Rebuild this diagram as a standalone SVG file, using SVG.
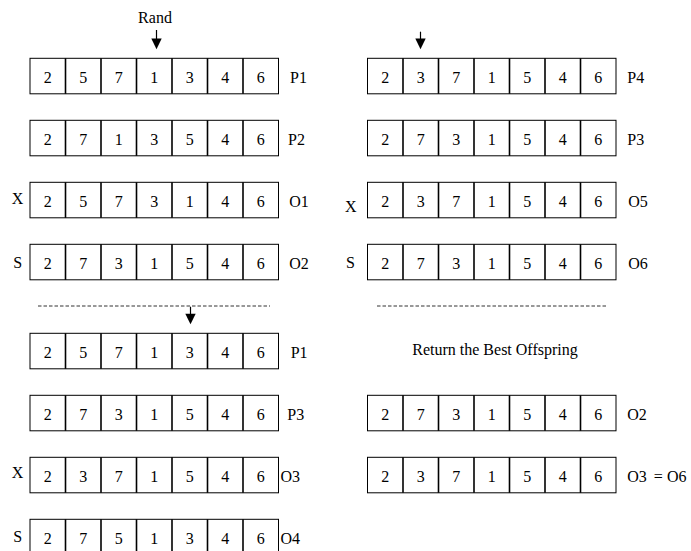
<svg xmlns="http://www.w3.org/2000/svg" xmlns:xlink="http://www.w3.org/1999/xlink" width="691" height="551" viewBox="0 0 691 551" font-family="'Liberation Serif', 'Times New Roman', serif">
<style>
text,tspan{font-family:"Liberation Serif","Times New Roman",serif;fill:#000}
.d{font-size:16px;text-anchor:middle}
.l{font-size:16px}
.fr{fill:#fff;stroke:#000;stroke-width:1}
.dv{stroke:#000;stroke-width:1.6}
.dash{stroke:#333;stroke-width:1;stroke-dasharray:3.5 2}
.ar{stroke:#000;stroke-width:1.2}
</style>
<defs>
<g id="frame">
<rect class="fr" x="0" y="0" width="248.5" height="35.5"/>
<line class="dv" x1="35.5" y1="0" x2="35.5" y2="35.5"/>
<line class="dv" x1="71" y1="0" x2="71" y2="35.5"/>
<line class="dv" x1="106.5" y1="0" x2="106.5" y2="35.5"/>
<line class="dv" x1="142" y1="0" x2="142" y2="35.5"/>
<line class="dv" x1="177.5" y1="0" x2="177.5" y2="35.5"/>
<line class="dv" x1="213" y1="0" x2="213" y2="35.5"/>
</g>
</defs>

<g id="L1">
<use xlink:href="#frame" x="30" y="58.3"/>
<text class="d" y="83.3"><tspan x="47.75">2</tspan><tspan x="83.25">5</tspan><tspan x="118.75">7</tspan><tspan x="154.25">1</tspan><tspan x="189.75">3</tspan><tspan x="225.25">4</tspan><tspan x="260.75">6</tspan></text>
<text class="l" x="290" y="83.3">P1</text>
</g>
<g id="L2">
<use xlink:href="#frame" x="30" y="120.3"/>
<text class="d" y="145.3"><tspan x="47.75">2</tspan><tspan x="83.25">7</tspan><tspan x="118.75">1</tspan><tspan x="154.25">3</tspan><tspan x="189.75">5</tspan><tspan x="225.25">4</tspan><tspan x="260.75">6</tspan></text>
<text class="l" x="288" y="145.3">P2</text>
</g>
<g id="L3">
<text class="l" x="11.7" y="204.3">X</text>
<use xlink:href="#frame" x="30" y="182.3"/>
<text class="d" y="207.3"><tspan x="47.75">2</tspan><tspan x="83.25">5</tspan><tspan x="118.75">7</tspan><tspan x="154.25">3</tspan><tspan x="189.75">1</tspan><tspan x="225.25">4</tspan><tspan x="260.75">6</tspan></text>
<text class="l" x="289.3" y="207.3">O1</text>
</g>
<g id="L4">
<text class="l" x="13.3" y="268.3">S</text>
<use xlink:href="#frame" x="30" y="244.3"/>
<text class="d" y="269.3"><tspan x="47.75">2</tspan><tspan x="83.25">7</tspan><tspan x="118.75">3</tspan><tspan x="154.25">1</tspan><tspan x="189.75">5</tspan><tspan x="225.25">4</tspan><tspan x="260.75">6</tspan></text>
<text class="l" x="289.3" y="269.3">O2</text>
</g>
<g id="L5">
<use xlink:href="#frame" x="30" y="333.3"/>
<text class="d" y="358.3"><tspan x="47.75">2</tspan><tspan x="83.25">5</tspan><tspan x="118.75">7</tspan><tspan x="154.25">1</tspan><tspan x="189.75">3</tspan><tspan x="225.25">4</tspan><tspan x="260.75">6</tspan></text>
<text class="l" x="290.7" y="358.3">P1</text>
</g>
<g id="L6">
<use xlink:href="#frame" x="30" y="395.3"/>
<text class="d" y="420.3"><tspan x="47.75">2</tspan><tspan x="83.25">7</tspan><tspan x="118.75">3</tspan><tspan x="154.25">1</tspan><tspan x="189.75">5</tspan><tspan x="225.25">4</tspan><tspan x="260.75">6</tspan></text>
<text class="l" x="287.3" y="420.3">P3</text>
</g>
<g id="L7">
<text class="l" x="11.7" y="478.3">X</text>
<use xlink:href="#frame" x="30" y="457.3"/>
<text class="d" y="482.3"><tspan x="47.75">2</tspan><tspan x="83.25">3</tspan><tspan x="118.75">7</tspan><tspan x="154.25">1</tspan><tspan x="189.75">5</tspan><tspan x="225.25">4</tspan><tspan x="260.75">6</tspan></text>
<text class="l" x="280.5" y="482.3">O3</text>
</g>
<g id="L8">
<text class="l" x="13.3" y="541.7">S</text>
<use xlink:href="#frame" x="30" y="519.3"/>
<text class="d" y="544.3"><tspan x="47.75">2</tspan><tspan x="83.25">7</tspan><tspan x="118.75">5</tspan><tspan x="154.25">1</tspan><tspan x="189.75">3</tspan><tspan x="225.25">4</tspan><tspan x="260.75">6</tspan></text>
<text class="l" x="280.5" y="544.3">O4</text>
</g>

<g id="R1">
<use xlink:href="#frame" x="367.5" y="58.3"/>
<text class="d" y="83.3"><tspan x="385.25">2</tspan><tspan x="420.75">3</tspan><tspan x="456.25">7</tspan><tspan x="491.75">1</tspan><tspan x="527.25">5</tspan><tspan x="562.75">4</tspan><tspan x="598.25">6</tspan></text>
<text class="l" x="627.3" y="83.3">P4</text>
</g>
<g id="R2">
<use xlink:href="#frame" x="367.5" y="120.3"/>
<text class="d" y="145.3"><tspan x="385.25">2</tspan><tspan x="420.75">7</tspan><tspan x="456.25">3</tspan><tspan x="491.75">1</tspan><tspan x="527.25">5</tspan><tspan x="562.75">4</tspan><tspan x="598.25">6</tspan></text>
<text class="l" x="627.3" y="145.3">P3</text>
</g>
<g id="R3">
<text class="l" x="345" y="211.7">X</text>
<use xlink:href="#frame" x="367.5" y="182.3"/>
<text class="d" y="207.3"><tspan x="385.25">2</tspan><tspan x="420.75">3</tspan><tspan x="456.25">7</tspan><tspan x="491.75">1</tspan><tspan x="527.25">5</tspan><tspan x="562.75">4</tspan><tspan x="598.25">6</tspan></text>
<text class="l" x="628.3" y="207.3">O5</text>
</g>
<g id="R4">
<text class="l" x="346" y="268.3">S</text>
<use xlink:href="#frame" x="367.5" y="244.3"/>
<text class="d" y="269.3"><tspan x="385.25">2</tspan><tspan x="420.75">7</tspan><tspan x="456.25">3</tspan><tspan x="491.75">1</tspan><tspan x="527.25">5</tspan><tspan x="562.75">4</tspan><tspan x="598.25">6</tspan></text>
<text class="l" x="628.3" y="269.3">O6</text>
</g>
<g id="R5">
<text class="l" x="495" y="355" text-anchor="middle">Return the Best Offspring</text>
</g>
<g id="R6">
<use xlink:href="#frame" x="367.5" y="395.3"/>
<text class="d" y="420.3"><tspan x="385.25">2</tspan><tspan x="420.75">7</tspan><tspan x="456.25">3</tspan><tspan x="491.75">1</tspan><tspan x="527.25">5</tspan><tspan x="562.75">4</tspan><tspan x="598.25">6</tspan></text>
<text class="l" x="627.3" y="420.3">O2</text>
</g>
<g id="R7">
<use xlink:href="#frame" x="367.5" y="457.3"/>
<text class="d" y="482.3"><tspan x="385.25">2</tspan><tspan x="420.75">3</tspan><tspan x="456.25">7</tspan><tspan x="491.75">1</tspan><tspan x="527.25">5</tspan><tspan x="562.75">4</tspan><tspan x="598.25">6</tspan></text>
<text class="l" x="627.3" y="482.3">O3<tspan dx="7">= O6</tspan></text>
</g>

<g id="rand">
<text class="l" x="155" y="22.7" text-anchor="middle">Rand</text>
</g>

<g id="connectors">
<line class="dash" x1="38" y1="306" x2="270" y2="306"/>
<line class="dash" x1="377" y1="306" x2="607" y2="306"/>
<line class="ar" x1="156.5" y1="30" x2="156.5" y2="40"/>
<polygon points="151.3,38.5 161.7,38.5 156.5,49.3" fill="#000"/>
<line class="ar" x1="420.5" y1="31.7" x2="420.5" y2="40"/>
<polygon points="415.3,38.5 425.7,38.5 420.5,49.3" fill="#000"/>
<line class="ar" x1="190.5" y1="306.7" x2="190.5" y2="315"/>
<polygon points="185.3,313.8 195.7,313.8 190.5,324.3" fill="#000"/>
</g>
</svg>
